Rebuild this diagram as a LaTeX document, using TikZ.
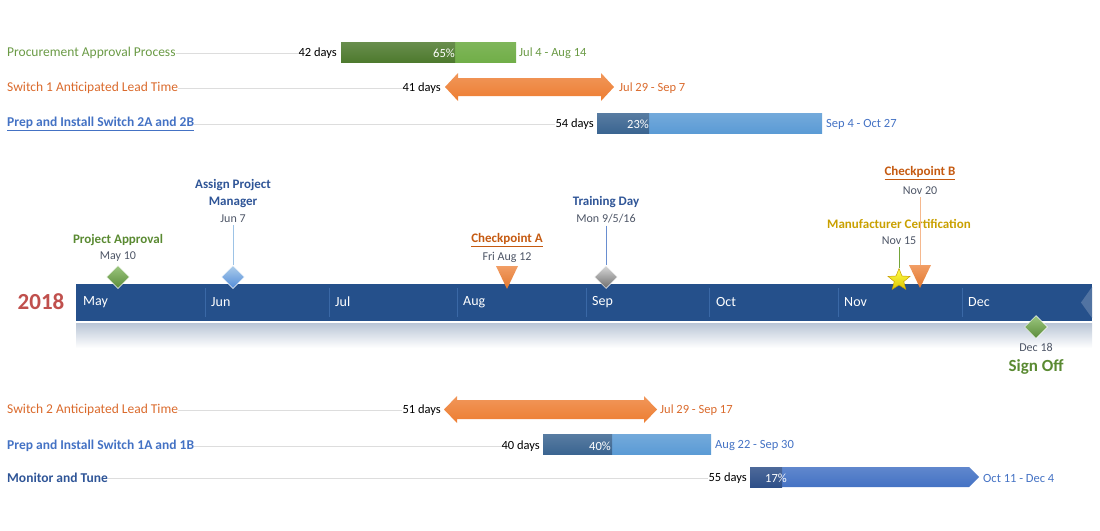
\documentclass[tikz,border=0pt]{standalone}
\usepackage{fontspec}
\setmainfont{Carlito}
\usepackage{tikz}
\usetikzlibrary{shapes}
\usetikzlibrary{positioning}

\definecolor{procgreen}{HTML}{6A9A45}
\definecolor{greendark}{HTML}{4E7A2E}
\definecolor{greenlight}{HTML}{71AE48}
\definecolor{leadorange}{HTML}{ED7D31}
\definecolor{orangetext}{HTML}{DA6A2C}
\definecolor{blueA}{HTML}{4472C4}
\definecolor{bluedark}{HTML}{3B6591}
\definecolor{bluelight}{HTML}{5B9BD5}
\definecolor{navytext}{HTML}{2F5597}
\definecolor{monitordark}{HTML}{2E4F88}
\definecolor{band}{HTML}{25508B}
\definecolor{bandlight}{HTML}{3A68A6}
\definecolor{reflect}{HTML}{B9C5D6}
\definecolor{leadergray}{HTML}{DDDDDD}
\definecolor{dategray}{HTML}{4D5566}
\definecolor{yearred}{HTML}{C0504D}
\definecolor{cporange}{HTML}{C55A11}
\definecolor{certgold}{HTML}{C9A000}
\definecolor{approvegreen}{HTML}{5A8A32}

\tikzset{
  row label/.style={anchor=west,inner sep=0pt,yshift=-1pt,font=\fontsize{13.5}{15}\selectfont},
  days label/.style={anchor=east,inner sep=0pt,yshift=-1pt,font=\fontsize{12.5}{15}\selectfont},
  span label/.style={anchor=west,inner sep=0pt,yshift=-1pt,font=\fontsize{12.5}{15}\selectfont},
  pct label/.style={anchor=east,inner sep=0pt,yshift=-1pt,text=white,font=\fontsize{12.5}{15}\selectfont},
  leader line/.style={draw=leadergray,line width=0.8pt},
  month label/.style={anchor=west,inner sep=0pt,text=white,font=\fontsize{14}{16}\selectfont},
  ms title/.style={inner sep=0pt,align=center,font=\bfseries\fontsize{13}{17}\selectfont},
  ms date/.style={inner sep=0pt,text=dategray,font=\fontsize{12}{14}\selectfont},
  ms diamond/.style={diamond,minimum size=23pt,inner sep=0pt,draw=white,line width=0.5pt},
  stem line/.style={line width=1pt,shorten <=2pt}
}

\begin{document}
\begin{tikzpicture}[x=1pt,y=-1pt]
\useasboundingbox (0,0) rectangle (1100,530);

% upper tasks
\node[row label,text=procgreen] (proc) at (7,52) {Procurement Approval Process};
\node[days label] (procdays) at (337,52) {42 days};
\draw[leader line] (proc.east) -- (procdays.west);
\shade[top color=greenlight!90!white,bottom color=greenlight] (341,42) rectangle (516,62);
\shade[top color=greendark!85!white,bottom color=greendark] (341,42) rectangle (455,62);
\node[pct label] (procpct) at (455,52) {65\%};
\node[span label,text=procgreen] (procspan) at (519,52) {Jul 4 - Aug 14};

\node[row label,text=orangetext] (sw1) at (7,87) {Switch 1 Anticipated Lead Time};
\node[days label] (sw1days) at (441,87) {41 days};
\draw[leader line] (sw1.east) -- (sw1days.west);
\shade[top color=leadorange!80!white,bottom color=leadorange] (445,87) -- (458,73) -- (458,78) -- (601,78) -- (601,73) -- (614,87) -- (601,101) -- (601,96) -- (458,96) -- (458,101) -- cycle;
\node[span label,text=orangetext] (sw1span) at (619,87) {Jul 29 - Sep 7};

\node[row label,text=blueA,font=\bfseries\fontsize{13.5}{15}\selectfont] (prep2) at (7,123) {\underline{Prep and Install Switch 2A and 2B}};
\node[days label] (prep2days) at (594,123) {54 days};
\draw[leader line] (prep2.east) -- (prep2days.west);
\shade[top color=bluelight!85!white,bottom color=bluelight] (597,113) rectangle (822,133);
\shade[top color=bluedark!85!white,bottom color=bluedark] (597,113) rectangle (649,133);
\node[pct label] (prep2pct) at (649,123) {23\%};
\node[span label,text=blueA] (prep2span) at (826,123) {Sep 4 - Oct 27};

% timeline band
\shade[top color=reflect,bottom color=white] (76,323) rectangle (1092,348);
\fill[band] (76,284) rectangle (1092,321);
\fill[band!80!white] (1092,287) -- (1081,302.5) -- (1092,318) -- cycle;
\node[inner sep=0pt,text=yearred,font=\bfseries\fontsize{23}{26}\selectfont] (year) at (41,302) {2018};
\foreach \x in {205,329,457,586,709,838,962}
  \draw[bandlight,line width=0.8pt] (\x,288) -- (\x,317);
\node[month label] (may) at (83,302) {May};
\node[month label] (jun) at (211,302) {Jun};
\node[month label] (jul) at (335,302) {Jul};
\node[month label] (aug) at (463,302) {Aug};
\node[month label] (sep) at (592,302) {Sep};
\node[month label] (oct) at (716,302) {Oct};
\node[month label] (nov) at (844,302) {Nov};
\node[month label] (dec) at (968,302) {Dec};

% milestones
\node[ms diamond,top color=greenlight!70!white,bottom color=greenlight!80!black] (approve) at (118,277) {};
\node[ms title,text=approvegreen] (approvet) at (118,240) {Project Approval};
\node[ms date] (approved) at (118,257) {May 10};

\node[ms diamond,top color=bluelight!50!white,bottom color=bluelight!90!blue] (mgr) at (233,277) {};
\node[ms title,text=navytext] (mgrt) at (233,193.5) {Assign Project\\Manager};
\node[ms date] (mgrd) at (233,219) {Jun 7};
\draw[stem line,bluelight!60!white] (mgrd.south) -- (mgr.north);

\coordinate (cpa) at (507,266);
\shade[top color=leadorange!75!white,bottom color=leadorange!95!black] (cpa) +(-11,0) -- +(11,0) -- +(0,23) -- cycle;
\node[ms title,text=cporange] (cpat) at (507,240) {\underline{Checkpoint A}};
\node[ms date] (cpad) at (507,257) {Fri Aug 12};

\node[ms diamond,top color=gray!30!white,bottom color=gray!85!black] (train) at (606,277) {};
\node[ms title,text=navytext] (traint) at (606,202) {Training Day};
\node[ms date] (traind) at (606,219) {Mon 9/5/16};
\draw[stem line,blueA!80!white] (traind.south) -- (train.north);

\node[star,star points=5,star point ratio=2.3,minimum size=23pt,inner sep=0pt,top color=yellow!70!white,bottom color=certgold!60!yellow,draw=certgold,line width=0.5pt] (cert) at (899,280) {};
\node[ms title,text=certgold] (certt) at (899,224) {Manufacturer Certification};
\node[ms date] (certd) at (899,241) {Nov 15};
\draw[stem line,greenlight!80!olive] (certd.south) -- (cert.north);

\coordinate (cpb) at (920,265);
\shade[top color=leadorange!75!white,bottom color=leadorange!95!black] (cpb) +(-11,0) -- +(11,0) -- +(0,23) -- cycle;
\node[ms title,text=cporange] (cpbt) at (920,173) {\underline{Checkpoint B}};
\node[ms date] (cpbd) at (920,191) {Nov 20};
\draw[stem line,leadorange!55!white] (cpbd.south) -- (cpb);

\node[ms diamond,top color=greenlight!70!white,bottom color=greenlight!80!black] (signoff) at (1036,327) {};
\node[ms date] (signoffd) at (1036,347) {Dec 18};
\node[ms title,text=approvegreen,font=\bfseries\fontsize{17}{20}\selectfont] (signofft) at (1036,367) {Sign Off};

% lower tasks
\node[row label,text=orangetext] (sw2) at (7,409) {Switch 2 Anticipated Lead Time};
\node[days label] (sw2days) at (441,409) {51 days};
\draw[leader line] (sw2.east) -- (sw2days.west);
\shade[top color=leadorange!80!white,bottom color=leadorange] (444,409.5) -- (457,396) -- (457,400) -- (644,400) -- (644,396) -- (657,409.5) -- (644,423) -- (644,419) -- (457,419) -- (457,423) -- cycle;
\node[span label,text=orangetext] (sw2span) at (660,409) {Jul 29 - Sep 17};

\node[row label,text=blueA,font=\bfseries\fontsize{13.5}{15}\selectfont] (prep1) at (7,445) {Prep and Install Switch 1A and 1B};
\node[days label] (prep1days) at (540,445) {40 days};
\draw[leader line] (prep1.east) -- (prep1days.west);
\shade[top color=bluelight!85!white,bottom color=bluelight] (543,434) rectangle (711,454);
\shade[top color=bluedark!85!white,bottom color=bluedark] (543,434) rectangle (612,454);
\node[pct label] (prep1pct) at (611,445) {40\%};
\node[span label,text=blueA] (prep1span) at (715,445) {Aug 22 - Sep 30};

\node[row label,text=navytext,font=\bfseries\fontsize{13.5}{15}\selectfont] (tune) at (7,477) {Monitor and Tune};
\node[days label] (tunedays) at (747,477) {55 days};
\draw[leader line] (tune.east) -- (tunedays.west);
\shade[top color=blueA!85!white,bottom color=blueA] (750,467) -- (969,467) -- (979,477) -- (969,487) -- (750,487) -- cycle;
\shade[top color=monitordark!85!white,bottom color=monitordark] (750,467) rectangle (782,487);
\node[pct label] (tunepct) at (787,477) {17\%};
\node[span label,text=blueA] (tunespan) at (983,477) {Oct 11 - Dec 4};
\end{tikzpicture}
\end{document}
